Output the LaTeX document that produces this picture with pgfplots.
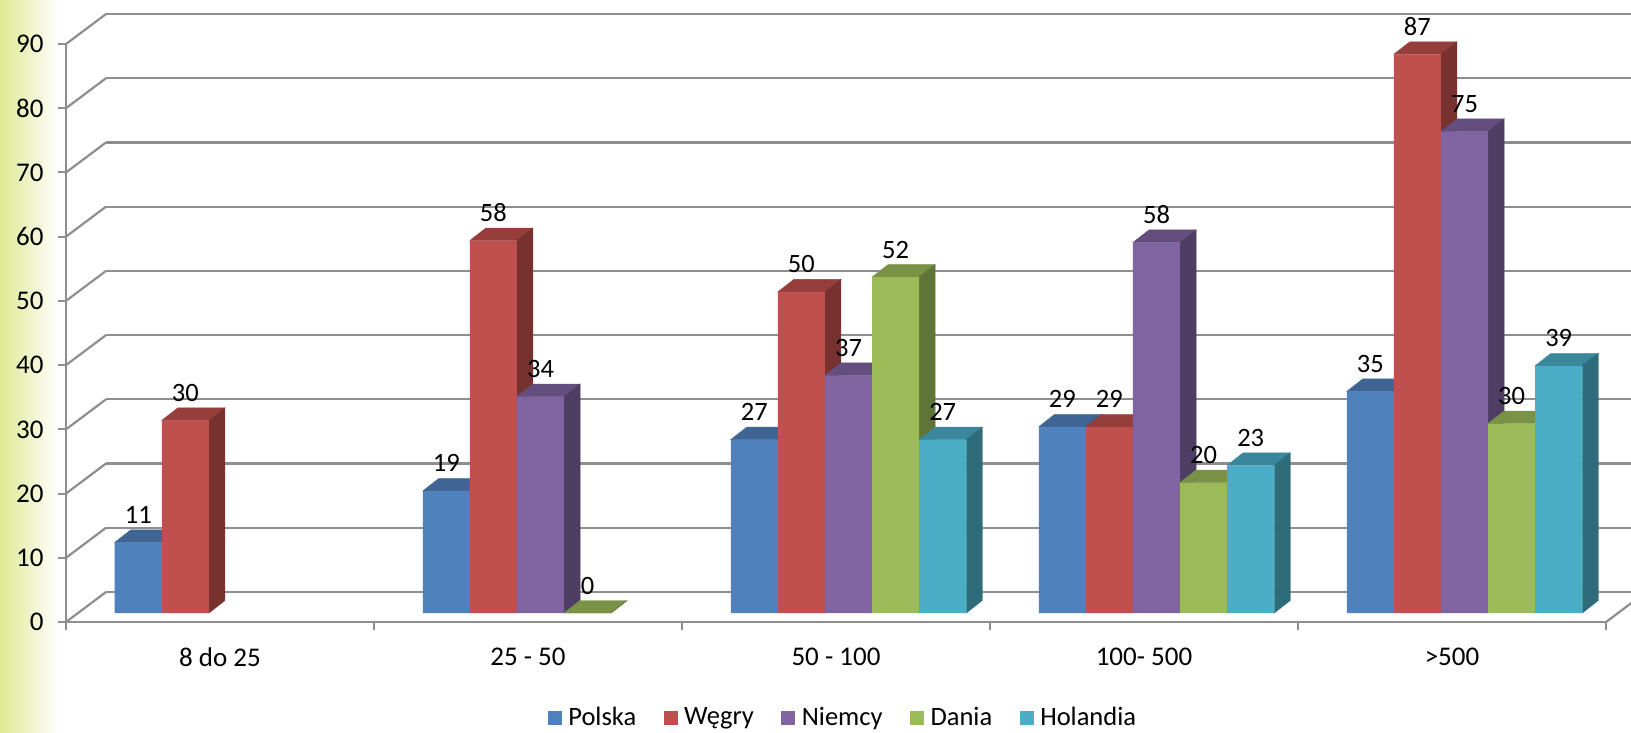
\documentclass[border=0pt]{standalone}
\usepackage{fontspec}
\setmainfont{Carlito}
\usepackage{pgfplots}
\usepackage{pgfplotstable}
\pgfplotsset{compat=1.18}

\definecolor{cPol}{HTML}{4F81BD}
\definecolor{cWeg}{HTML}{C0504D}
\definecolor{cNie}{HTML}{8064A2}
\definecolor{cDan}{HTML}{9BBB59}
\definecolor{cHol}{HTML}{4BACC6}
\definecolor{gridc}{HTML}{8E8E8E}
\definecolor{bandc}{HTML}{DFE892}

\pgfplotstableread{
x y
0.5 11
1.5 19
2.5 27
3.5 29
4.5 34.5
}\tPolska
\pgfplotstableread{
x y
0.5 30
1.5 58
2.5 50
3.5 29
4.5 87
}\tWegry
\pgfplotstableread{
x y
1.5 33.7
2.5 37
3.5 57.7
4.5 75
}\tNiemcy
\pgfplotstableread{
x y
1.5 0
2.5 52.3
3.5 20.3
4.5 29.5
}\tDania
\pgfplotstableread{
x y
2.5 27
3.5 23
4.5 38.5
}\tHolandia

\pgfdeclareplotmark{blank}{}

\pgfplotsset{
  % side and top faces, height taken from the data
  faces/.style n args={2}{
    only marks, scatter, mark=blank, forget plot,
    xshift=#2pt, xshift=12.5pt, yshift=9pt,
    visualization depends on={rawy \as \ry},
    scatter/@pre marker code/.code={%
      \pgfmathsetmacro\hh{\ry*6.4222}%
      \fill[#1!78!black] (-23.55pt,0pt) -- (23.55pt,0pt) -- (39.55pt,12.5pt) -- (-7.55pt,12.5pt) -- cycle;
      \fill[#1!62!black] (23.55pt,0pt) -- (39.55pt,12.5pt) -- (39.55pt,12.5pt-\hh pt) -- (23.55pt,-\hh pt) -- cycle;
    },
    scatter/@post marker code/.code={},
  },
  % front face with the value above it
  front/.style n args={2}{
    ybar, bar width=47.1pt, bar shift=#2pt, xshift=12.5pt, yshift=9pt,
    fill=#1, draw=none,
    nodes near coords,
    every node near coord/.append style={anchor=base, inner sep=0pt, xshift=#2pt, yshift=19pt, text=black,
      font=\fontsize{26.5}{30}\selectfont, /pgf/number format/fixed, /pgf/number format/precision=0},
    legend image code/.code={\fill[#1] (0pt,-17pt) rectangle (14pt,-3pt);},
  },
}

\begin{document}
\begin{tikzpicture}
\useasboundingbox (0pt,0pt) rectangle (1631pt,732pt);
\fill[white] (0pt,0pt) rectangle (1631pt,732pt);
\shade[left color=bandc, right color=white] (0pt,0pt) rectangle (58pt,732pt);
\clip (0pt,0pt) rectangle (1631pt,732pt);
\begin{axis}[
    at={(66pt,110pt)}, anchor=south west,
    scale only axis, width=1540pt, height=578pt,
    xmin=0, xmax=5, ymin=0, ymax=90,
    clip=false, clip mode=individual,
    axis x line=bottom, axis y line=left,
    axis line style={-, gridc, line width=2.2pt},
    tick align=outside,
    xtick={0.5,1.5,2.5,3.5,4.5},
    xticklabels={8 do 25, 25 - 50, 50 - 100, 100- 500, {>500}},
    minor xtick={0,1,2,3,4,5},
    ytick={0,10,20,30,40,50,60,70,80,90},
    major tick length=8pt, minor tick length=8pt,
    xtick style={draw=none},
    minor x tick style={draw=gridc, line width=2pt},
    ytick style={draw=gridc, line width=2pt},
    ymajorgrids,
    major grid style={gridc, line width=2.2pt, xshift=40pt, yshift=30pt},
    /pgf/number format/assume math mode=true,
    tick label style={font=\fontsize{27}{30}\selectfont, text=black},
    xticklabel style={yshift=-14pt},
    yticklabel style={xshift=-11pt},
    legend columns=-1,
    legend cell align=left,
    legend style={at={(0.506,-0.1638)}, anchor=center, draw=none, fill=none,
      font=\fontsize{26.5}{30}\selectfont, inner sep=0pt,
      nodes={inner xsep=6.5pt, inner ysep=0pt},
      /tikz/every even column/.append style={column sep=21pt}},
]
\pgfplotsinvokeforeach{0,10,20,30,40,50,60,70,80,90}{
  \draw[gridc, line width=2.2pt] (axis cs:0,#1) -- ++(40pt,30pt);
}
\draw[gridc, line width=2.2pt] (axis cs:5,0) -- ++(40pt,30pt);

\addplot[faces={cPol}{-94.2}] table {\tPolska};
\addplot[front={cPol}{-94.2}] table {\tPolska};
\addlegendentry{Polska}
\addplot[faces={cWeg}{-47.1}] table {\tWegry};
\addplot[front={cWeg}{-47.1}] table {\tWegry};
\addlegendentry{Węgry}
\addplot[faces={cNie}{0}] table {\tNiemcy};
\addplot[front={cNie}{0}] table {\tNiemcy};
\addlegendentry{Niemcy}
\addplot[faces={cDan}{47.1}] table {\tDania};
\addplot[front={cDan}{47.1}] table {\tDania};
\addlegendentry{Dania}
\addplot[faces={cHol}{94.2}] table {\tHolandia};
\addplot[front={cHol}{94.2}] table {\tHolandia};
\addlegendentry{Holandia}
\end{axis}
\end{tikzpicture}
\end{document}
